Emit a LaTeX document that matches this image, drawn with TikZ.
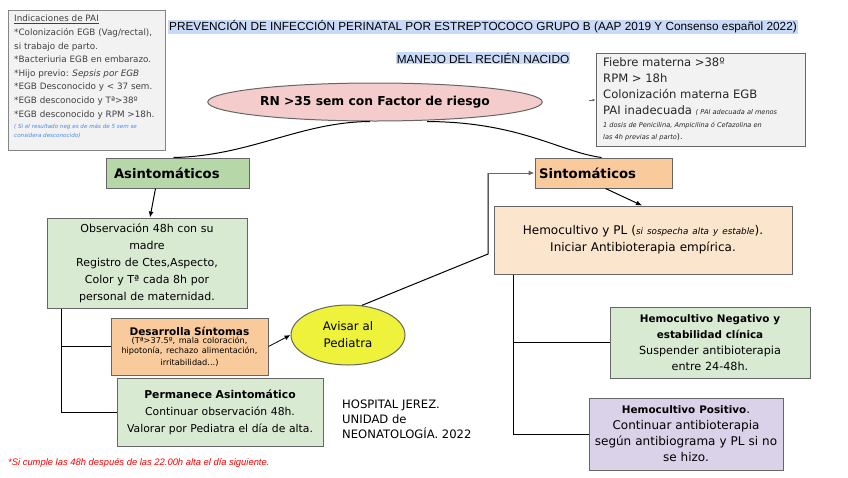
\documentclass[tikz,border=0pt]{standalone}
\usepackage{fontspec}
\setmainfont{DejaVu Sans}
\newfontfamily\arialf{Liberation Sans}
\usetikzlibrary{shapes.geometric,arrows.meta,calc}
\definecolor{boxgray}{HTML}{F2F2F2}
\definecolor{edgegray}{HTML}{666666}
\definecolor{pinkf}{HTML}{F4CCCC}
\definecolor{greenA}{HTML}{B6D7A8}
\definecolor{greenL}{HTML}{D9EAD3}
\definecolor{orangeA}{HTML}{F9CB9C}
\definecolor{orangeL}{HTML}{FCE5CD}
\definecolor{lavender}{HTML}{D9D2E9}
\definecolor{yell}{HTML}{EEF23A}
\definecolor{hlblue}{HTML}{C9DAF8}
\definecolor{noteblue}{HTML}{4A86E8}
\tikzset{
  box/.style={draw=edgegray, line width=1pt, rectangle, inner sep=2pt},
  conn/.style={line width=1pt, draw=black},
  arr/.style={conn, -{Latex[length=6pt,width=5pt]}},
  garr/.style={line width=1pt, draw=edgegray, -{Latex[length=6pt,width=5pt]}},
}
\begin{document}
\begin{tikzpicture}[x=1pt,y=-1pt]
\useasboundingbox (0,0) rectangle (848,477);
% title
\node[fill=hlblue, inner sep=1pt, font=\arialf\fontsize{11.8}{13}\selectfont] (title) at (483,27) {PREVENCIÓN DE INFECCIÓN PERINATAL POR ESTREPTOCOCO GRUPO B (AAP 2019 Y Consenso español 2022)};
\node[fill=hlblue, inner sep=1pt, font=\arialf\fontsize{11.8}{13}\selectfont] (manejo) at (483,58) {MANEJO DEL RECIÉN NACIDO};
% PAI box
\node[box, fill=boxgray, draw=edgegray!80, minimum width=157pt, minimum height=140pt] (pai) at (86.5,80) {};
\node[anchor=north west, align=left, inner sep=0pt, text=black!75, font=\fontsize{8.8}{13.6}\selectfont] (paitxt) at (14,15) {\underline{Indicaciones de PAI}\\*Colonización EGB (Vag/rectal),\\si trabajo de parto.\\*Bacteriuria EGB en embarazo.\\*Hijo previo: \textit{Sepsis por EGB}\\*EGB Desconocido y < 37 sem.\\*EGB desconocido y Tª>38º\\*EGB desconocido y RPM >18h.};
\node[anchor=north west, align=left, inner sep=0pt, text=noteblue, font=\itshape\fontsize{5.6}{8.5}\selectfont] (painote) at (14,124) {( Si el resultado neg es de más de 5 sem se\\considera desconocido)};
% Fiebre box
\node[box, fill=boxgray, minimum width=209pt, minimum height=93pt] (fiebre) at (700.5,99.5) {};
\node[anchor=north west, align=left, inner sep=0pt, text=black!85, font=\fontsize{11.6}{16}\selectfont] (fiebretxt) at (603,57) {Fiebre materna >38º\\RPM > 18h\\Colonización materna EGB\\PAI inadecuada {\itshape\fontsize{6.6}{6}\selectfont ( PAI adecuada al menos}};
\node[anchor=north west, align=left, inner sep=0pt, text=black!85, font=\itshape\fontsize{6.6}{12}\selectfont] (fiebrenote) at (603,122) {1 dosis de Penicilina, Ampicilina ó Cefazolina en\\las 4h previas al parto\upshape\fontsize{8}{12}\selectfont ).};
% main ellipse
\node[ellipse, draw=edgegray, line width=1pt, fill=pinkf, minimum width=324pt, minimum height=38pt, font=\bfseries\fontsize{12.3}{14}\selectfont] (rn) at (375,102) {RN >35 sem con Factor de riesgo};
% Asintomaticos
\node[box, fill=greenA, minimum width=143pt, minimum height=30pt, text width=135pt, align=left, font=\bfseries\fontsize{13.2}{15}\selectfont] (asin) at (177.5,173) {\hspace*{4pt}Asintomáticos};
\node[box, fill=greenL, minimum width=200pt, minimum height=90pt, text width=194pt, align=center, font=\fontsize{11}{17}\selectfont] (obs) at (147,263) {Observación 48h con su\\madre\\Registro de Ctes,Aspecto,\\Color y Tª cada 8h por\\personal de maternidad.};
\node[box, fill=orangeA, minimum width=157pt, minimum height=57pt, text width=152pt, align=center, font=\bfseries\fontsize{10.5}{12}\selectfont] (desa) at (189.5,346.5) {Desarrolla Síntomas\\[-2pt]{\mdseries\fontsize{8.2}{10}\selectfont (Tª>37.5º, mala coloración,\\hipotonía, rechazo alimentación,\\irritabilidad...)}};
\node[box, fill=greenL, minimum width=206pt, minimum height=68pt, text width=202pt, align=center, font=\fontsize{10.8}{17}\selectfont] (perm) at (220,412) {{\bfseries Permanece Asintomático}\\Continuar observación 48h.\\Valorar por Pediatra el día de alta.};
\node[ellipse, draw=edgegray, line width=1pt, fill=yell, minimum width=114pt, minimum height=60pt, align=center, font=\fontsize{11.8}{17}\selectfont] (avisar) at (348,335) {Avisar al\\Pediatra};
% Sintomaticos
\node[box, fill=orangeA, minimum width=137pt, minimum height=30pt, text width=129pt, align=left, font=\bfseries\fontsize{13.2}{15}\selectfont] (sint) at (603.5,173) {Sintomáticos};
\node[box, fill=orangeL, minimum width=298pt, minimum height=68pt, text width=294pt, align=center, font=\fontsize{12}{17}\selectfont] (hemo) at (643,240) {Hemocultivo y PL ({\itshape\fontsize{8.8}{8}\selectfont si sospecha alta y estable}).\\Iniciar Antibioterapia empírica.};
\node[box, fill=greenL, minimum width=200pt, minimum height=71pt, text width=196pt, align=center, font=\fontsize{11.2}{16}\selectfont] (neg) at (710,342.5) {{\bfseries\fontsize{10.4}{16}\selectfont Hemocultivo Negativo y\\estabilidad clínica}\\Suspender antibioterapia\\entre 24-48h.};
\node[box, fill=lavender, minimum width=192pt, minimum height=72pt, text width=190pt, align=center, font=\fontsize{12}{16}\selectfont] (pos) at (686,434) {{\bfseries\fontsize{10.4}{16}\selectfont Hemocultivo Positivo}.\\Continuar antibioterapia\\según antibiograma y PL si no\\se hizo.};
% hospital + note
\node[anchor=north west, align=left, inner sep=0pt, font=\fontsize{11.6}{15}\selectfont] (hosp) at (342,400) {HOSPITAL JEREZ.\\UNIDAD de\\NEONATOLOGÍA. 2022};
\node[anchor=west, inner sep=0pt, text=red, font=\arialf\itshape\fontsize{9.4}{10}\selectfont] (note) at (8,463) {*Si cumple las 48h después de las 22.00h alta el día siguiente.};
% connectors
\draw[conn] ($(rn.south)+(-5,0)$) .. controls (300,122) and (250,156) .. ($(asin.north)+(-4,0)$);
\draw[conn] ($(rn.south)+(52,0)$) .. controls (520,122) and (560,152) .. ($(sint.north)+(-2,0)$);
\draw[arr] ($(asin.south)+(-22,0)$) -- ($(obs.north)+(3,0)$);
\coordinate (ob0) at ($(obs.south west)+(15,0)$);
\coordinate (ob1) at (ob0 |- desa.west);
\coordinate (ob2) at (ob0 |- perm.west);
\draw[conn] (ob0) -- (ob2) -- (perm.west);
\draw[conn] (ob1) -- (desa.west);
\draw[arr, line width=0.8pt] (desa.east) -- (avisar.west);
\coordinate (vx) at (488,254);
\coordinate (vtop) at (488,173);
\draw[conn] (avisar.65) -- (vx) -- (vtop);
\draw[garr] (vtop) -- (sint.west);
\draw[arr] ($(sint.south)+(2,0)$) -- ($(hemo.north)+(-1,0)$);
\coordinate (hb0) at ($(hemo.south west)+(20,0)$);
\coordinate (hb1) at (hb0 |- neg.west);
\coordinate (hb2) at (hb0 |- pos.west);
\draw[conn] (hb0) -- (hb2) -- (pos.west);
\draw[conn] (hb1) -- (neg.west);
\coordinate (fs) at (589,100);
\draw[garr, line width=0.6pt, -{Latex[length=3pt,width=3pt]}] (fs) -- (fs -| fiebre.west);
\end{tikzpicture}
\end{document}
